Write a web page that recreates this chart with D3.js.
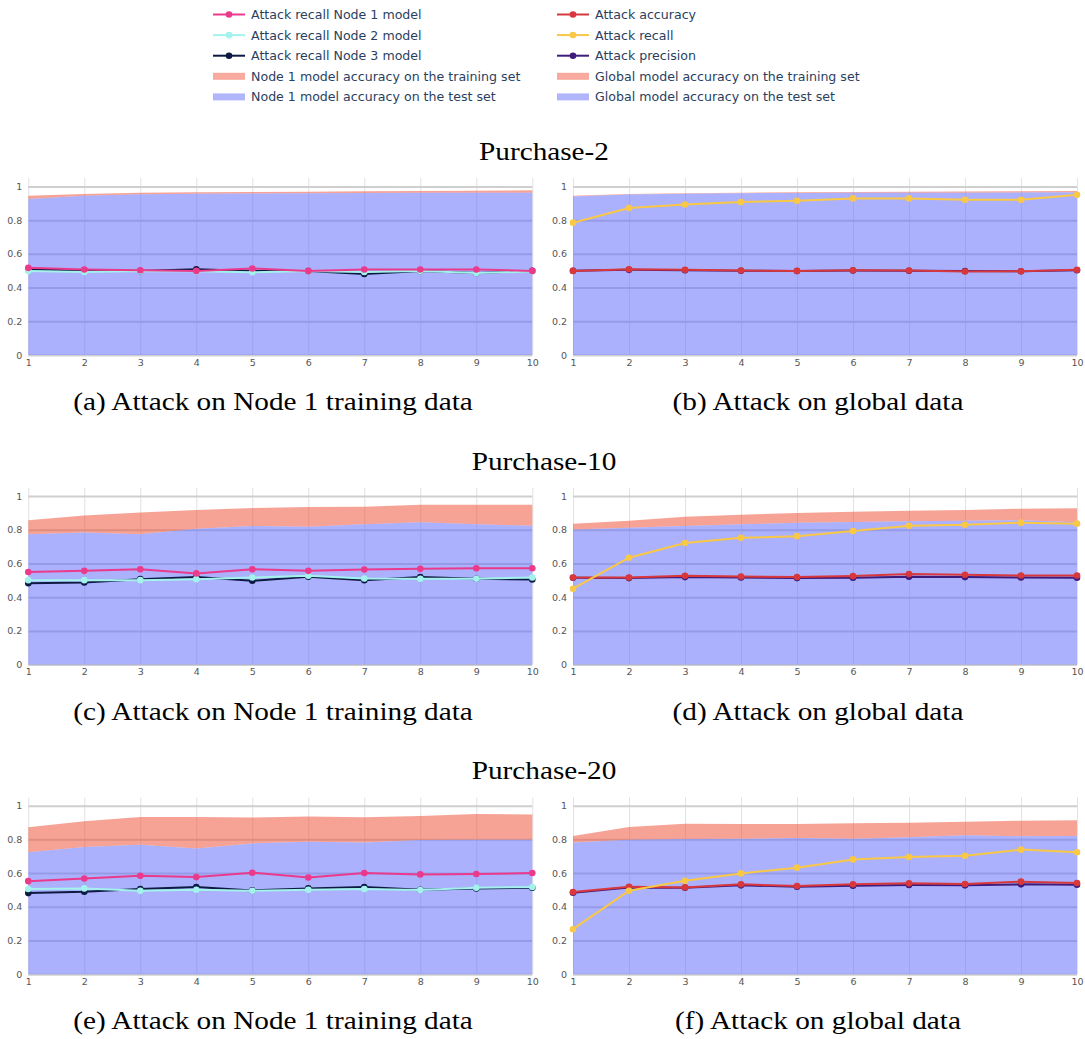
<!DOCTYPE html>
<html>
<head>
<meta charset="utf-8">
<script src="https://cdn.jsdelivr.net/npm/d3@7"></script>
<style>
  body { margin: 0; background: #fff; }
  svg { display: block; }
</style>
</head>
<body>
<svg></svg>
<script>
// x values (epochs) and y ticks
const epochs = [1, 2, 3, 4, 5, 6, 7, 8, 9, 10]
const yTicks = [0, 0.2, 0.4, 0.6, 0.8, 1]

const titles = ['Purchase-2', 'Purchase-10', 'Purchase-20']
const captions = [
    ['(a) Attack on Node 1 training data', '(b) Attack on global data'],
    ['(c) Attack on Node 1 training data', '(d) Attack on global data'],
    ['(e) Attack on Node 1 training data', '(f) Attack on global data']
]

const legendLeft = ['Attack recall Node 1 model', 'Attack recall Node 2 model', 'Attack recall Node 3 model',
    'Node 1 model accuracy on the training set', 'Node 1 model accuracy on the test set']
const legendRight = ['Attack accuracy', 'Attack recall', 'Attack precision',
    'Global model accuracy on the training set', 'Global model accuracy on the test set']

// Purchase-2
const p2NodeTrain = [0.945, 0.955, 0.963, 0.965, 0.967, 0.969, 0.971, 0.973, 0.975, 0.977]
const p2NodeTest = [0.925, 0.945, 0.953, 0.956, 0.958, 0.96, 0.961, 0.962, 0.962, 0.962]
const p2Node1 = [0.517, 0.507, 0.503, 0.499, 0.513, 0.499, 0.507, 0.507, 0.507, 0.499]
const p2Node2 = [0.499, 0.493, 0.499, 0.497, 0.491, 0.499, 0.493, 0.499, 0.487, 0.495]
const p2Node3 = [0.507, 0.503, 0.499, 0.509, 0.499, 0.499, 0.481, 0.499, 0.487, 0.499]
const p2GlobalTrain = [0.945, 0.955, 0.96, 0.963, 0.965, 0.967, 0.968, 0.97, 0.971, 0.973]
const p2GlobalTest = [0.94, 0.952, 0.957, 0.96, 0.961, 0.962, 0.963, 0.963, 0.964, 0.965]
const p2Acc = [0.499, 0.509, 0.505, 0.501, 0.499, 0.503, 0.501, 0.495, 0.497, 0.505]
const p2Recall = [0.785, 0.872, 0.893, 0.907, 0.915, 0.929, 0.929, 0.921, 0.921, 0.951]
const p2Prec = [0.5, 0.505, 0.503, 0.5, 0.498, 0.501, 0.5, 0.498, 0.497, 0.503]

// Purchase-10
const p10NodeTrain = [0.857, 0.885, 0.903, 0.917, 0.929, 0.935, 0.937, 0.949, 0.949, 0.949]
const p10NodeTest = [0.774, 0.784, 0.774, 0.806, 0.822, 0.818, 0.832, 0.844, 0.832, 0.824]
const p10Node1 = [0.549, 0.556, 0.566, 0.541, 0.566, 0.556, 0.564, 0.568, 0.572, 0.572]
const p10Node2 = [0.501, 0.501, 0.501, 0.507, 0.517, 0.527, 0.511, 0.509, 0.509, 0.517]
const p10Node3 = [0.483, 0.487, 0.507, 0.519, 0.497, 0.521, 0.501, 0.519, 0.509, 0.505]
const p10GlobalTrain = [0.836, 0.853, 0.877, 0.889, 0.899, 0.907, 0.913, 0.917, 0.925, 0.927]
const p10GlobalTest = [0.802, 0.812, 0.822, 0.832, 0.842, 0.846, 0.85, 0.853, 0.857, 0.844]
const p10Acc = [0.517, 0.517, 0.527, 0.523, 0.519, 0.525, 0.537, 0.533, 0.529, 0.529]
const p10Recall = [0.45, 0.634, 0.721, 0.752, 0.762, 0.792, 0.824, 0.83, 0.842, 0.836]
const p10Prec = [0.515, 0.513, 0.519, 0.517, 0.513, 0.515, 0.521, 0.519, 0.517, 0.515]

// Purchase-20
const p20NodeTrain = [0.871, 0.907, 0.933, 0.933, 0.929, 0.935, 0.931, 0.939, 0.95, 0.947]
const p20NodeTest = [0.723, 0.754, 0.768, 0.745, 0.776, 0.786, 0.782, 0.796, 0.798, 0.798]
const p20Node1 = [0.552, 0.568, 0.584, 0.576, 0.602, 0.574, 0.6, 0.592, 0.594, 0.6]
const p20Node2 = [0.505, 0.509, 0.495, 0.501, 0.495, 0.501, 0.505, 0.499, 0.513, 0.517]
const p20Node3 = [0.481, 0.489, 0.505, 0.517, 0.497, 0.509, 0.517, 0.501, 0.509, 0.513]
const p20GlobalTrain = [0.82, 0.873, 0.893, 0.891, 0.891, 0.895, 0.899, 0.905, 0.911, 0.913]
const p20GlobalTest = [0.782, 0.798, 0.802, 0.804, 0.808, 0.804, 0.812, 0.824, 0.818, 0.82]
const p20Acc = [0.487, 0.519, 0.515, 0.533, 0.523, 0.533, 0.539, 0.535, 0.549, 0.541]
const p20Recall = [0.267, 0.495, 0.554, 0.598, 0.632, 0.681, 0.695, 0.703, 0.739, 0.723]
const p20Prec = [0.483, 0.515, 0.513, 0.527, 0.519, 0.525, 0.529, 0.527, 0.533, 0.531]

// colours
const lineColorsLeft = ['#ea3a8c', '#a3f3ec', '#0c1a42']
const lineColorsRight = ['#d8383c', '#f9c846', '#3f1b7c']
const trainColor = '#ef553b'
const testColor = '#636efa'

let width = 1085
let height = 1039

let svg = d3.select('svg')
    .attr('width', width)
    .attr('height', height)

// panel layout
let colX = [[28.3, 532.3], [573, 1077]]
let rowTop0 = 178
let rowStep = 309.6
let plotH = 177
let serif = "'Liberation Serif', 'Times New Roman', serif"
let serifStretch = 1.17 //the latex font is wider than Times

// the six panels: [train, test, lines (drawn bottom first), side]
let panels = [
    [p2NodeTrain, p2NodeTest, [p2Node3, p2Node2, p2Node1], 'left'],
    [p2GlobalTrain, p2GlobalTest, [p2Prec, p2Acc, p2Recall], 'right'],
    [p10NodeTrain, p10NodeTest, [p10Node3, p10Node2, p10Node1], 'left'],
    [p10GlobalTrain, p10GlobalTest, [p10Prec, p10Acc, p10Recall], 'right'],
    [p20NodeTrain, p20NodeTest, [p20Node3, p20Node2, p20Node1], 'left'],
    [p20GlobalTrain, p20GlobalTest, [p20Prec, p20Acc, p20Recall], 'right']
]

const serifText = (x, y, str) => {
    let t = svg.append('text')
        .attr('x', x)
        .attr('y', y)
        .attr('text-anchor', 'middle')
        .style('font-family', serif)
        .style('font-size', '25px')
        .text(str)
    let w = t.node().getComputedTextLength()
    t.attr('textLength', w * serifStretch).attr('lengthAdjust', 'spacingAndGlyphs')
}

const drawPanel = (p, i) => {
    let row = Math.floor(i / 2)
    let col = i % 2
    let top = rowTop0 + row * rowStep
    let [train, test, lines, side] = p

    let xScale = d3.scaleLinear().domain([1, 10]).range(colX[col])
    let yScale = d3.scaleLinear().domain([0, 1.05]).range([top + plotH, top])

    let g = svg.append('g')

    // grid via the axes
    let xAxis = d3.axisBottom(xScale).tickValues(epochs).tickSize(-plotH).tickPadding(4)
    let gx = g.append('g')
        .attr('transform', 'translate(0,' + (top + plotH) + ')')
        .call(xAxis)
    gx.select('.domain').remove()
    gx.selectAll('line').attr('stroke', '#e2e2e2').attr('stroke-width', 1)

    let yAxis = d3.axisLeft(yScale).tickValues(yTicks).tickSize(-(colX[col][1] - colX[col][0]))
        .tickPadding(6).tickFormat(d3.format('~g'))
    let gy = g.append('g')
        .attr('transform', 'translate(' + colX[col][0] + ',0)')
        .call(yAxis)
    gy.select('.domain').remove()
    gy.selectAll('line').attr('stroke', '#cfcfcf').attr('stroke-width', 2)

    g.selectAll('.tick text')
        .attr('fill', '#555')
        .style('font-family', 'DejaVu Sans')
        .style('font-size', '9.5px')

    // areas: test from zero, training as the band above it
    let testArea = d3.area()
        .x((d, k) => xScale(epochs[k]))
        .y0(yScale(0))
        .y1(d => yScale(d))
    let trainArea = d3.area()
        .x((d, k) => xScale(epochs[k]))
        .y0((d, k) => yScale(test[k]))
        .y1(d => yScale(d))

    g.append('path').datum(train).attr('d', trainArea)
        .attr('fill', trainColor).attr('fill-opacity', 0.54)
    g.append('path').datum(test).attr('d', testArea)
        .attr('fill', testColor).attr('fill-opacity', 0.54)

    // lines + markers
    let colors = side == 'left' ? [lineColorsLeft[2], lineColorsLeft[1], lineColorsLeft[0]]
                                : [lineColorsRight[2], lineColorsRight[0], lineColorsRight[1]]
    let line = d3.line()
        .x((d, k) => xScale(epochs[k]))
        .y(d => yScale(d))

    lines.forEach((values, j) => {
        g.append('path').datum(values).attr('d', line)
            .attr('fill', 'none').attr('stroke', colors[j]).attr('stroke-width', 2)
        g.selectAll(null)
            .data(values)
            .enter()
            .append('circle')
            .attr('cx', (d, k) => xScale(epochs[k]))
            .attr('cy', d => yScale(d))
            .attr('r', 3.3)
            .attr('fill', colors[j])
    })

    // caption under each panel
    serifText(col == 0 ? 273 : 818, top + plotH + 55, captions[row][col])
}

const drawTitles = () => {
    titles.forEach((t, r) => {
        serifText(544, rowTop0 + r * rowStep - 18, t)
    })
}

const drawLegend = () => {
    let cols = [[213, legendLeft, lineColorsLeft], [557, legendRight, lineColorsRight]]
    cols.forEach(([x0, labels, colors]) => {
        labels.forEach((label, k) => {
            let y = 14.5 + k * 20.6
            let item = svg.append('g').attr('transform', 'translate(' + x0 + ',' + y + ')')
            if (k < 3) {
                item.append('line')
                    .attr('x1', 0).attr('x2', 32)
                    .attr('stroke', colors[k]).attr('stroke-width', 2)
                item.append('circle')
                    .attr('cx', 16).attr('r', 3.3)
                    .attr('fill', colors[k])
            } else {
                item.append('rect')
                    .attr('x', 0).attr('y', -3.5)
                    .attr('width', 32).attr('height', 7)
                    .attr('fill', k == 3 ? trainColor : testColor)
                    .attr('fill-opacity', 0.5)
            }
            item.append('text')
                .attr('x', 38)
                .attr('dy', '0.35em')
                .attr('fill', '#2a3f5f')
                .style('font-family', 'DejaVu Sans')
                .style('font-size', '12.6px')
                .text(label)
        })
    })
}

drawLegend()
drawTitles()
panels.forEach(drawPanel)
</script>
</body>
</html>
